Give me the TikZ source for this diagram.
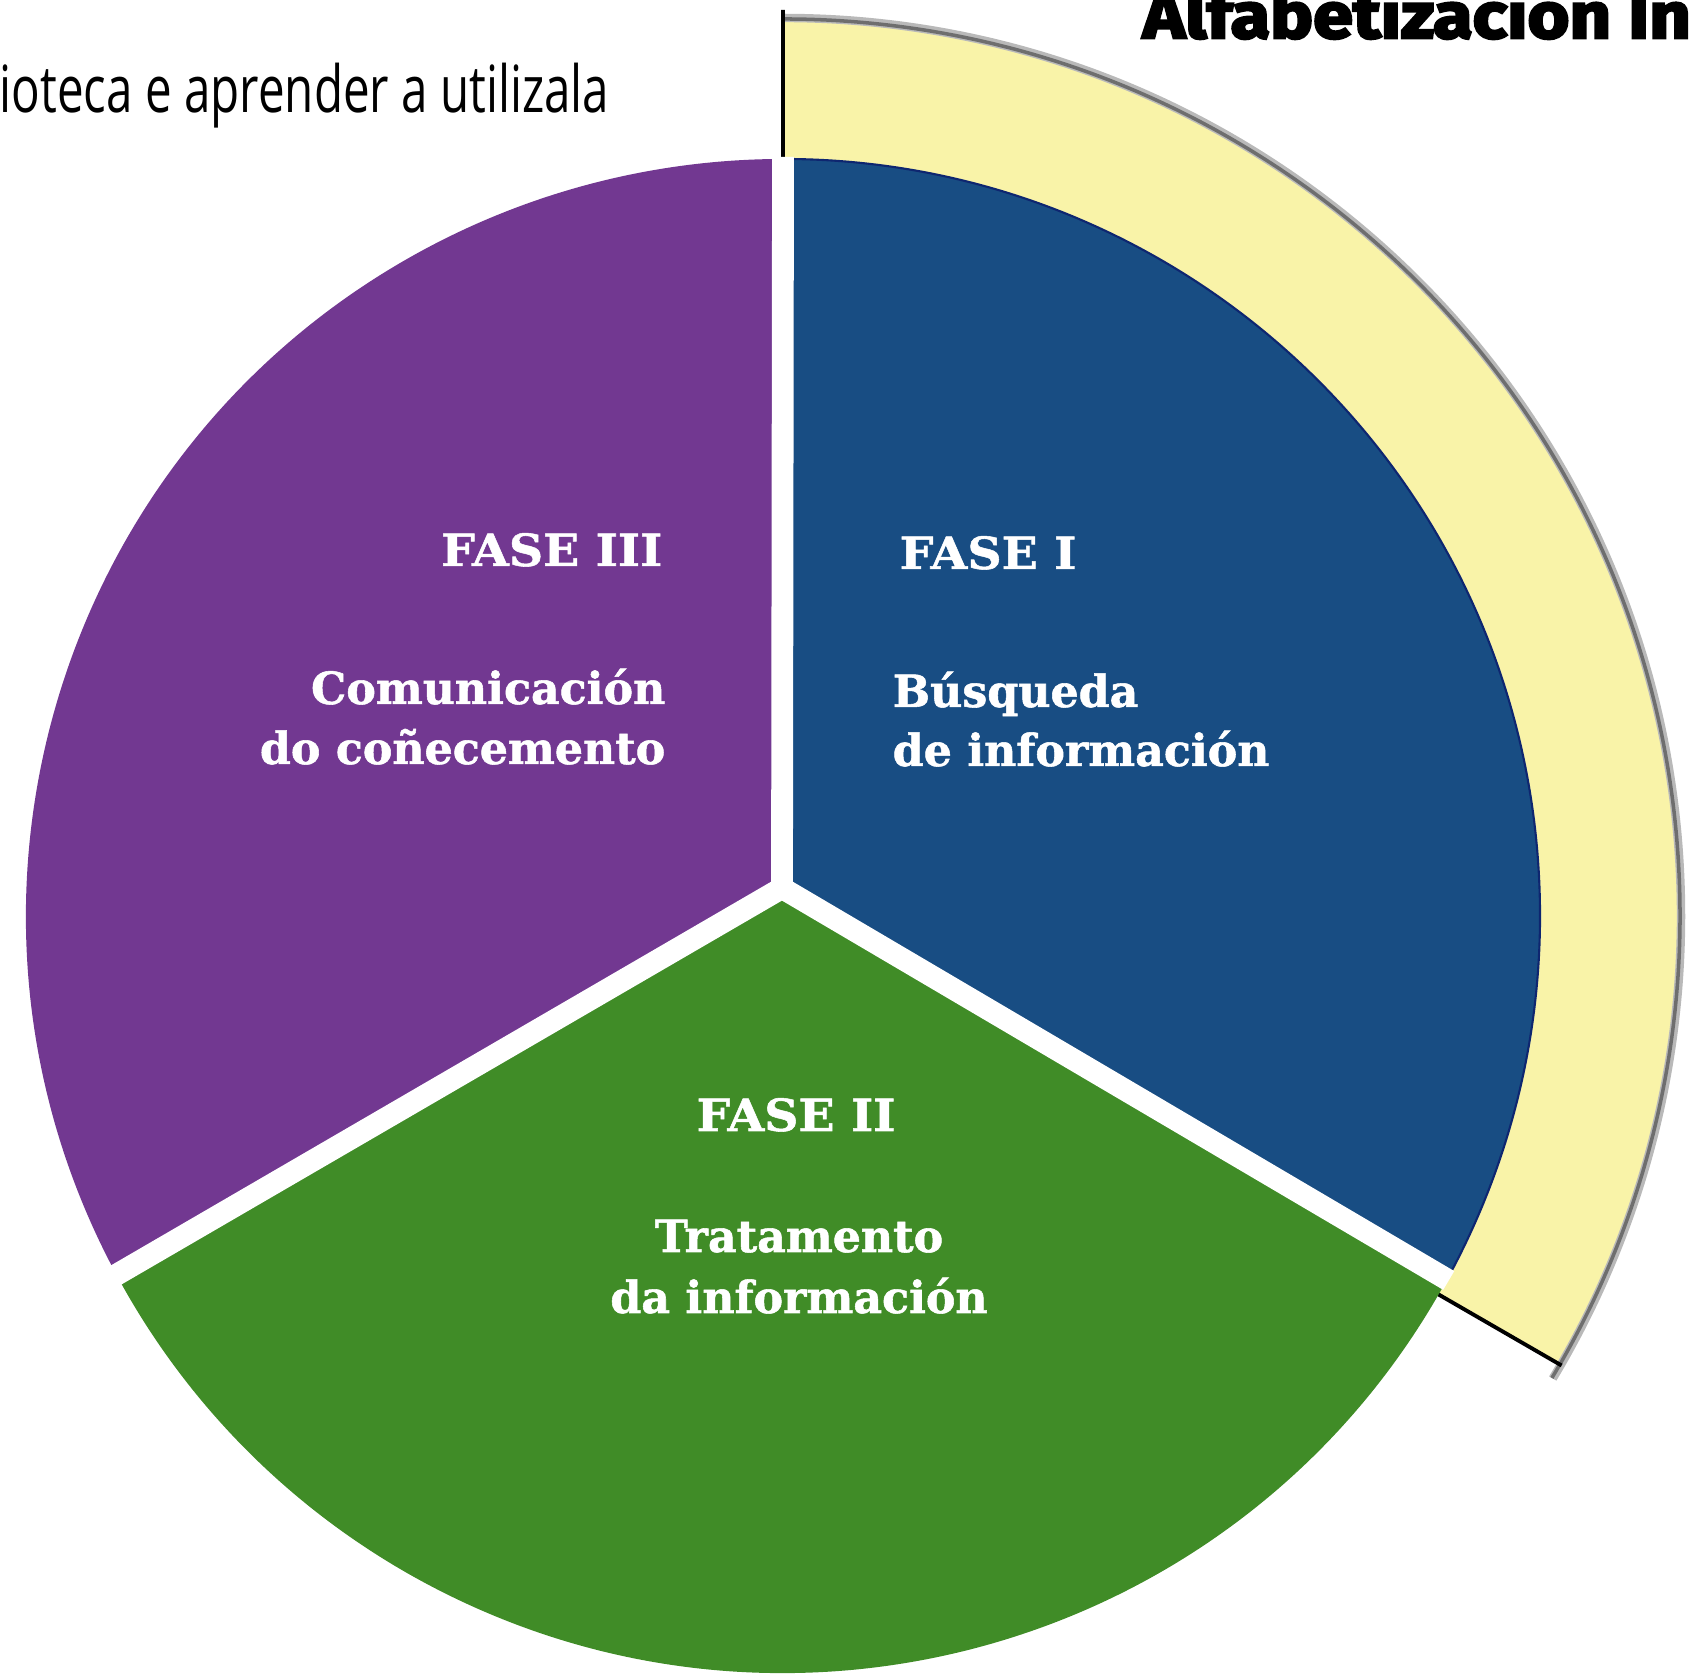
\documentclass[tikz,border=0pt]{standalone}
\usepackage{fontspec}
\newfontfamily\fasefont[FakeBold=1.2]{DejaVu Serif}
\newfontfamily\fasecapsfont[FakeBold=1.2,FakeStretch=1.07]{DejaVu Serif}
\newfontfamily\notefont[FakeStretch=0.73]{Open Sans}
\newfontfamily\titlefont[FakeBold=4,FakeStretch=1.12]{Fira Sans}
\definecolor{fasepurple}{RGB}{114,56,145}
\definecolor{faseblue}{RGB}{24,77,131}
\definecolor{faseblueedge}{RGB}{14,38,112}
\definecolor{fasegreen}{RGB}{64,140,39}
\definecolor{faseyellow}{RGB}{249,243,168}
\definecolor{rimgray}{RGB}{110,110,110}
\definecolor{rimlight}{RGB}{185,185,185}
\begin{document}
\begin{tikzpicture}[x=0.01cm, y=0.01cm,
  phase/.style={text=white, inner sep=0pt, font=\fasefont\bfseries\fontsize{12.6}{15}\selectfont},
  phasehead/.style={phase, font=\fasecapsfont\bfseries\fontsize{12.6}{15}\selectfont},
  note/.style={inner sep=0pt, font=\notefont\fontsize{18.5}{22}\selectfont},
  titletext/.style={inner sep=0pt, font=\titlefont\bfseries\fontsize{18.3}{22}\selectfont},
  gap/.style={white, line width=6.2pt},
  edge/.style={black, line width=1.1pt},
  rim/.style={rimgray, line width=1pt},
  rimshade/.style={rimlight, line width=2.4pt}]
  \useasboundingbox (0,0) rectangle (1692,1674);
  \coordinate (centre) at (783,758);
  \coordinate (apex) at (782,786);

  % Yellow band behind the first phase
  \fill[faseyellow] (centre) -- ([shift={(90:897)}]centre) arc[start angle=90, end angle=-30, radius=897] -- cycle;
  \draw[rimshade] ([shift={(90:898)}]centre) arc[start angle=90, end angle=-31, radius=898];
  \draw[rim] ([shift={(90:897)}]centre) arc[start angle=90, end angle=-31, radius=897];
  \draw[edge] ([shift={(90:906)}]centre) -- (centre) -- ([shift={(-30:899)}]centre);

  % Pie sectors
  \filldraw[fill=faseblue, draw=faseblueedge, line width=0.6pt] (apex) -- ([shift={(90:757)}]centre) arc[start angle=90, end angle=-28.7, radius=757] -- cycle;
  \fill[fasegreen] (apex) -- ([shift={(-28.7:757)}]centre) arc[start angle=-28.7, end angle=-151.7, radius=757] -- cycle;
  \fill[fasepurple] (apex) -- ([shift={(208.3:757)}]centre) arc[start angle=208.3, end angle=90, radius=757] -- cycle;

  % White gaps between the sectors
  \draw[gap] (apex) -- ([shift={(90:759)}]centre);
  \draw[gap] (apex) -- ([shift={(-28.7:759)}]centre);
  \draw[gap] (apex) -- ([shift={(208.3:759)}]centre);
  \fill[white] (apex) circle (11);

  % Phase labels
  \node[phasehead, anchor=base west] (fase1) at (899,1105) {FASE I};
  \node[phase, anchor=base west] (busca1) at (892,967) {Búsqueda};
  \node[phase, anchor=base west] (busca2) at (892,908) {de información};
  \node[phasehead, anchor=base] (fase2) at (796,543) {FASE II};
  \node[phase, anchor=base] (trata1) at (799,422) {Tratamento};
  \node[phase, anchor=base] (trata2) at (799,361) {da información};
  \node[phasehead, anchor=base east] (fase3) at (663,1108) {FASE III};
  \node[phase, anchor=base east] (comun1) at (666,970) {Comunicación};
  \node[phase, anchor=base east] (comun2) at (666,910) {do coñecemento};

  % Texts at the top
  \node[note, anchor=base east] (library) at (610,1561) {ioteca e aprender a utilizala};
  \node[titletext, anchor=base west] (title) at (1142,1636) {Alfabetización In};
\end{tikzpicture}
\end{document}
